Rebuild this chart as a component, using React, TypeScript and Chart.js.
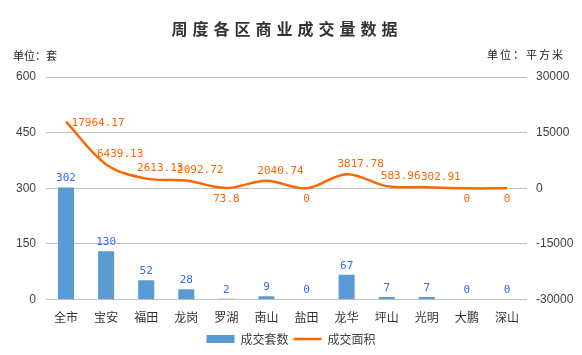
import React, { useEffect, useRef } from "react";
import { Chart, registerables } from "chart.js";

Chart.register(...registerables);

const TITLE = "周度各区商业成交量数据";
const UNIT_LEFT = "单位：套";
const UNIT_RIGHT = "单位：平方米";
const categories = ["全市", "宝安", "福田", "龙岗", "罗湖", "南山", "盐田", "龙华", "坪山", "光明", "大鹏", "深山"];
const unitCounts = [302, 130, 52, 28, 2, 9, 0, 67, 7, 7, 0, 0];
const areas = [17964.17, 6439.13, 2613.13, 2092.72, 73.8, 2040.74, 0, 3817.78, 583.96, 302.91, 0, 0];
const areaLabels = ["17964.17", "6439.13", "2613.13", "2092.72", "73.8", "2040.74", "0", "3817.78", "583.96", "302.91", "0", "0"];
const leftTicks = [0, 150, 300, 450, 600];
const rightTicks = [-30000, -15000, 0, 15000, 30000];

const BAR_COLOR = "#5B9BD5";
const LINE_COLOR = "#FF6600";
const BAR_LABEL_COLOR = "#3366FF";
const CJK = '"Noto Sans CJK SC", "Noto Sans", sans-serif';
const NUM = '"Liberation Sans", Arial, sans-serif';
const MONO = '"DejaVu Sans Mono", "Liberation Mono", monospace';

const decorPlugin = {
  id: "decor",
  afterDraw(chart: any) {
    const ctx = chart.ctx;
    ctx.save();
    ctx.fillStyle = "#333333";
    ctx.font = `bold 16px ${CJK}`;
    ctx.textAlign = "center";
    ctx.textBaseline = "middle";
    (ctx as any).letterSpacing = "5px";
    ctx.fillText(TITLE, 287, 29);
    (ctx as any).letterSpacing = "0px";
    ctx.font = `11px ${CJK}`;
    ctx.textAlign = "left";
    ctx.fillStyle = "#222222";
    ctx.fillText(UNIT_LEFT, 13, 56);
    ctx.textAlign = "right";
    (ctx as any).letterSpacing = "2px";
    ctx.fillText(UNIT_RIGHT, 565, 55);
    (ctx as any).letterSpacing = "0px";
    ctx.restore();
  },
  afterDatasetsDraw(chart: any) {
    const ctx = chart.ctx;
    ctx.save();
    ctx.textAlign = "center";
    ctx.textBaseline = "middle";
    ctx.font = `11px ${MONO}`;
    const barMeta = chart.getDatasetMeta(1);
    barMeta.data.forEach((el: any, i: number) => {
      ctx.fillStyle = BAR_LABEL_COLOR;
      ctx.fillText(String(unitCounts[i]), el.x, el.y - 9);
    });
    const lineMeta = chart.getDatasetMeta(0);
    lineMeta.data.forEach((el: any, i: number) => {
      ctx.fillStyle = LINE_COLOR;
      const below = areas[i] < 100;
      const first = i === 0;
      const dx = below ? 0 : first ? 32 : 14;
      const dy = below ? 11 : first ? 1 : -10;
      ctx.fillText(areaLabels[i], el.x + dx, el.y + dy);
    });
    ctx.restore();
  },
};

export default function App() {
  const ref = useRef<HTMLCanvasElement | null>(null);
  useEffect(() => {
    document.body.style.margin = "0";
    const canvas = ref.current!;
    const chart = new Chart(canvas, {
      type: "bar",
      data: {
        labels: categories,
        datasets: [
          {
            type: "line",
            label: "成交面积",
            data: areas,
            yAxisID: "y1",
            borderColor: LINE_COLOR,
            backgroundColor: LINE_COLOR,
            borderWidth: 2.5,
            pointRadius: 0,
            pointStyle: "line",
            tension: 0.35,
            order: 0,
          } as any,
          {
            type: "bar",
            label: "成交套数",
            data: unitCounts,
            yAxisID: "y",
            backgroundColor: BAR_COLOR,
            borderWidth: 0,
            pointStyle: "rect",
            categoryPercentage: 1,
            barPercentage: 0.4,
            order: 1,
          } as any,
        ],
      },
      options: {
        animation: false,
        responsive: false,
        layout: { padding: { top: 77, bottom: 0, left: 0, right: 0 } },
        plugins: {
          legend: {
            position: "bottom",
            reverse: true,
            labels: {
              usePointStyle: true,
              pointStyleWidth: 28,
              boxHeight: 8,
              padding: 5,
              color: "#404040",
              font: { family: CJK, size: 12 },
            },
          },
          tooltip: { enabled: false },
        },
        scales: {
          x: {
            grid: { display: false },
            border: { display: false },
            ticks: { color: "#333333", font: { family: CJK, size: 12 }, padding: 3 },
          },
          y: {
            position: "left",
            min: 0,
            max: 600,
            afterBuildTicks: (s: any) => { s.ticks = leftTicks.map((v) => ({ value: v })); },
            afterFit: (s: any) => { s.width = 46; },
            grid: { color: "#C0C0C0", lineWidth: 1, drawTicks: false },
            border: { display: false },
            ticks: { color: "#404040", font: { family: NUM, size: 12 }, padding: 10, callback: (v: any) => String(v) },
          },
          y1: {
            position: "right",
            min: -30000,
            max: 30000,
            afterBuildTicks: (s: any) => { s.ticks = rightTicks.map((v) => ({ value: v })); },
            afterFit: (s: any) => { s.width = 55; },
            grid: { display: false, drawTicks: false },
            border: { display: false },
            ticks: { color: "#404040", font: { family: NUM, size: 12 }, padding: 9, callback: (v: any) => String(v) },
          },
        },
      },
      plugins: [decorPlugin],
    } as any);
    return () => chart.destroy();
  }, []);
  return <canvas ref={ref} width={582} height={355} style={{ display: "block" }} />;
}
